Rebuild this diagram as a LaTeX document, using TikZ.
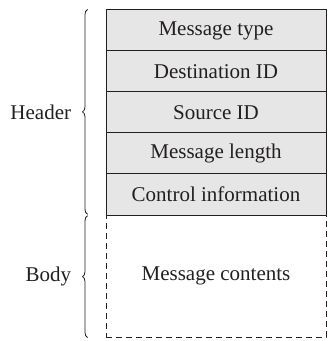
\documentclass[tikz,border=0pt]{standalone}
\usepackage{fontspec}
\setmainfont{Liberation Serif}
\usepackage{tikz}
\usetikzlibrary{positioning,decorations.pathreplacing,calc}
\definecolor{cFill}{HTML}{E6E6E6}
\definecolor{cInk}{HTML}{231F20}

\begin{document}
\begin{tikzpicture}[font=\fontsize{10.5}{12}\selectfont,
      field/.style={draw=cInk,line width=0.5pt,fill=cFill,minimum width=110pt,minimum height=20.5pt,inner sep=0pt,text=cInk},
      bodybox/.style={draw=cInk,line width=0.5pt,dash pattern=on 3pt off 2pt,minimum width=110pt,minimum height=61pt,inner sep=0pt,text=cInk},
      brc/.style={draw=cInk,line width=0.4pt,decorate,decoration={brace,amplitude=2.5pt}}]
    \useasboundingbox (0,0) rectangle (163.5pt,-170.5pt);
    \node[bodybox] (body) at (108pt,-138pt) {Message contents};
    \foreach \v [count=\i from 0] in {Message type,Destination ID,Source ID,Message length,Control information}
      \node[field] (f\i) at (108pt,-15.25pt-\i*20.5pt) {\v};
    % braces on the left
    \draw[brc] ($(f4.south west)+(-9pt,0.6pt)$) -- ($(f0.north west)+(-9pt,0)$)
      coordinate[pos=0.5,xshift=-2.5pt] (htip);
    \draw[brc] ($(body.south west)+(-9pt,0)$) -- ($(body.north west)+(-9pt,-0.6pt)$)
      coordinate[pos=0.5,xshift=-2.5pt] (btip);
    \node[anchor=east,text=cInk,inner sep=0pt] (hdr) at ($(htip)+(-5.5pt,0)$) {Header};
    \node[anchor=east,text=cInk,inner sep=0pt] (bdy) at ($(btip)+(-5.5pt,0)$) {Body};
  \end{tikzpicture}
\end{document}
